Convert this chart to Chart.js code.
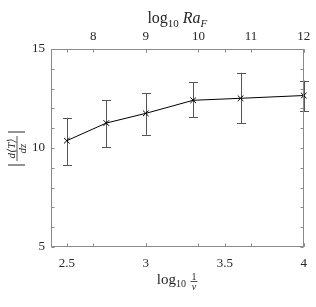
<!DOCTYPE html>
<html><head><meta charset="utf-8">
<script src="https://cdn.jsdelivr.net/npm/chart.js@4.4.1/dist/chart.umd.min.js"></script>
<style>html,body{margin:0;padding:0;background:#fff}#wrap{width:316px;height:307px;position:relative}</style>
</head><body><div id="wrap"><canvas id="c"></canvas></div>
<script>
// ---- data ----
const xValues   = [2.5, 2.75, 3.0, 3.3, 3.6, 4.0];          // log10(1/nu)
const yValues   = [10.37, 11.26, 11.75, 12.41, 12.51, 12.65]; // |d<T>/dz|
const errUpper  = [11.53, 12.41, 12.76, 13.32, 13.80, 13.40];
const errLower  = [9.13, 10.04, 10.67, 11.55, 11.25, 11.87];
const bottomTicks = [2.5, 3, 3.5, 4];
const topTicks    = [8, 9, 10, 11, 12];                      // log10 Ra_F
const yTicks      = [5, 10, 15];

const SERIF = '"Liberation Serif","DejaVu Serif",serif';
const frameColor = '#8a8a8a';
const textColor = '#262626';

const errorBars = {
  id: 'errorBars',
  beforeDatasetsDraw(chart) {
    const {ctx, scales: {x, y}} = chart;
    ctx.save();
    ctx.strokeStyle = '#555';
    ctx.lineWidth = 1;
    xValues.forEach((xv, i) => {
      const px = Math.round(x.getPixelForValue(xv)) + 0.5;
      const pt = y.getPixelForValue(errUpper[i]);
      const pb = y.getPixelForValue(errLower[i]);
      ctx.beginPath();
      ctx.moveTo(px, pt); ctx.lineTo(px, pb);
      ctx.moveTo(px - 4.5, Math.round(pt) + 0.5); ctx.lineTo(px + 4.5, Math.round(pt) + 0.5);
      ctx.moveTo(px - 4.5, Math.round(pb) + 0.5); ctx.lineTo(px + 4.5, Math.round(pb) + 0.5);
      ctx.stroke();
    });
    ctx.restore();
  }
};

const frameAndLabels = {
  id: 'frameAndLabels',
  afterDraw(chart) {
    const {ctx, chartArea: a, scales: {x, x2, y}} = chart;
    ctx.save();
    ctx.strokeStyle = frameColor;
    ctx.lineWidth = 1;
    const L = Math.round(a.left) + 0.5, R = Math.round(a.right) - 0.5;
    const T = Math.round(a.top) + 0.5, B = Math.round(a.bottom) - 0.5;
    ctx.strokeRect(L, T, R - L, B - T);
    const tl = 3;
    ctx.beginPath();
    // inward ticks on top and bottom edges for both x scales
    const xs = bottomTicks.map(v => x.getPixelForValue(v))
      .concat(topTicks.map(v => x2.getPixelForValue(v)));
    xs.forEach(p => {
      const q = Math.round(p) + 0.5;
      ctx.moveTo(q, B); ctx.lineTo(q, B - tl);
      ctx.moveTo(q, T); ctx.lineTo(q, T + tl);
    });
    // inward ticks on y (every unit)
    for (let v = y.min; v <= y.max; v += 1) {
      const q = Math.round(y.getPixelForValue(v)) + 0.5;
      ctx.moveTo(L, q); ctx.lineTo(L + tl, q);
      ctx.moveTo(R, q); ctx.lineTo(R - tl, q);
    }
    ctx.stroke();

    ctx.fillStyle = textColor;
    ctx.textBaseline = 'alphabetic';
    // top title: log10 Ra_F
    {
      const parts = [
        ['log', '16px ' + SERIF, 0],
        ['10', '11px ' + SERIF, 4],
        [' ', '16px ' + SERIF, 0],
        ['Ra', 'italic 16px ' + SERIF, 0],
        ['F', 'italic 11px ' + SERIF, 4]
      ];
      let w = 0;
      parts.forEach(p => { ctx.font = p[1]; w += ctx.measureText(p[0]).width; });
      let cx = (a.left + a.right) / 2 - w / 2;
      const by = 23;
      ctx.textAlign = 'left';
      parts.forEach(p => { ctx.font = p[1]; ctx.fillText(p[0], cx, by + p[2]); cx += ctx.measureText(p[0]).width; });
    }
    // bottom title: log10 1/nu
    {
      const by = 284;
      ctx.textAlign = 'left';
      ctx.font = '15px ' + SERIF;
      const w1 = ctx.measureText('log').width;
      ctx.font = '10px ' + SERIF;
      const w2 = ctx.measureText('10').width;
      const fw = 8;
      const total = w1 + w2 + 4 + fw;
      let cx = (a.left + a.right) / 2 - total / 2;
      ctx.font = '15px ' + SERIF; ctx.fillText('log', cx, by); cx += w1;
      ctx.font = '10px ' + SERIF; ctx.fillText('10', cx, by + 3); cx += w2 + 4;
      const fc = cx + fw / 2;
      ctx.textAlign = 'center';
      ctx.font = '10px ' + SERIF; ctx.fillText('1', fc, by - 4);
      ctx.font = 'italic 10px ' + SERIF; ctx.fillText('ν', fc, by + 6);
      ctx.beginPath(); ctx.strokeStyle = textColor; ctx.lineWidth = 0.8;
      ctx.moveTo(fc - 3.5, by - 2.5); ctx.lineTo(fc + 3.5, by - 2.5); ctx.stroke();
    }
    // y title: |d<T>/dz| rotated
    {
      ctx.translate(18, (a.top + a.bottom) / 2);
      ctx.rotate(-Math.PI / 2);
      ctx.strokeStyle = textColor; ctx.lineWidth = 1;
      ctx.beginPath();
      ctx.moveTo(-17, -10); ctx.lineTo(-17, 7);
      ctx.moveTo(16, -10); ctx.lineTo(16, 7);
      ctx.stroke();
      ctx.lineWidth = 0.8;
      ctx.beginPath(); ctx.moveTo(-13, -1); ctx.lineTo(12, -1); ctx.stroke();
      ctx.textAlign = 'center';
      ctx.font = 'italic 11px ' + SERIF;
      ctx.fillText('d⟨T⟩', -0.5, -3);
      ctx.fillText('dz', -0.5, 8);
    }
    ctx.restore();
  }
};

const tickFont = {family: SERIF, size: 13};

new Chart(document.getElementById('c'), {
  type: 'scatter',
  data: {
    datasets: [{
      data: xValues.map((v, i) => ({x: v, y: yValues[i]})),
      showLine: true,
      borderColor: '#000',
      borderWidth: 1,
      pointStyle: 'crossRot',
      pointRadius: 4,
      pointBorderColor: '#000',
      pointBorderWidth: 1,
      clip: false,
      xAxisID: 'x', yAxisID: 'y'
    }]
  },
  options: {
    responsive: true,
    maintainAspectRatio: false,
    animation: false,
    layout: {padding: {left: 0, right: 9, top: 0, bottom: 0}},
    plugins: {legend: {display: false}, tooltip: {enabled: false}},
    scales: {
      x: {
        type: 'linear', position: 'bottom', min: 2.4, max: 4,
        afterBuildTicks: s => { s.ticks = bottomTicks.map(v => ({value: v})); },
        afterFit: s => { s.height = 60; },
        grid: {display: false, drawTicks: false},
        border: {display: false},
        ticks: {font: tickFont, color: textColor, padding: 9, maxRotation: 0,
                callback: v => String(v)}
      },
      x2: {
        type: 'linear', position: 'top', min: 7.2, max: 12,
        afterBuildTicks: s => { s.ticks = topTicks.map(v => ({value: v})); },
        afterFit: s => { s.height = 49; },
        grid: {display: false, drawTicks: false},
        border: {display: false},
        ticks: {font: tickFont, color: textColor, padding: 5, maxRotation: 0,
                callback: v => String(v)}
      },
      y: {
        type: 'linear', position: 'left', min: 5, max: 15,
        afterBuildTicks: s => { s.ticks = yTicks.map(v => ({value: v})); },
        afterFit: s => { s.width = 51; },
        grid: {display: false, drawTicks: false},
        border: {display: false},
        ticks: {font: tickFont, color: textColor, padding: 6,
                callback: v => String(v)}
      }
    }
  },
  plugins: [errorBars, frameAndLabels]
});
</script>
</body></html>
